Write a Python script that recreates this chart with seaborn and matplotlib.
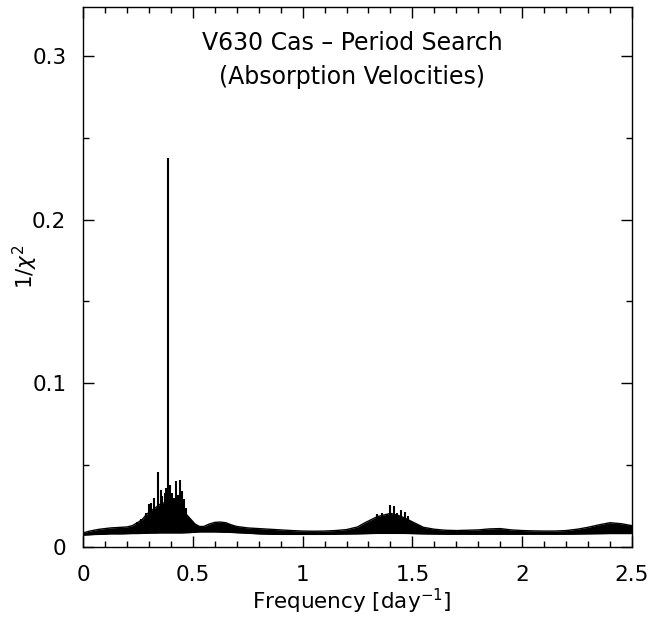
import numpy as np
import pandas as pd
import matplotlib
matplotlib.use("Agg")
import matplotlib.pyplot as plt
from matplotlib.ticker import MultipleLocator
import seaborn as sns

# Periodogram envelope: frequency [1/day], lower and upper bound of 1/chi^2
freq_env = [0.00, 0.025, 0.05, 0.075, 0.10, 0.125, 0.15, 0.175, 0.20, 0.225,
            0.25, 0.27, 0.29, 0.31, 0.33, 0.35, 0.37, 0.39, 0.41, 0.43,
            0.45, 0.47, 0.49, 0.51, 0.53, 0.55, 0.575, 0.60, 0.625, 0.65,
            0.675, 0.70, 0.75, 0.80, 0.85, 0.90, 0.95, 1.00, 1.05, 1.10,
            1.15, 1.20, 1.25, 1.28, 1.31, 1.34, 1.37, 1.40, 1.43, 1.46,
            1.49, 1.52, 1.55, 1.60, 1.65, 1.70, 1.75, 1.80, 1.85, 1.90,
            1.95, 2.00, 2.05, 2.10, 2.15, 2.20, 2.25, 2.30, 2.35, 2.40,
            2.45, 2.50]
power_lo = [0.0072, 0.0074, 0.0076, 0.0077, 0.0078, 0.0080, 0.0080, 0.0080, 0.0081, 0.0082,
            0.0082, 0.0083, 0.0084, 0.0085, 0.0085, 0.0086, 0.0086, 0.0086, 0.0086, 0.0086,
            0.0086, 0.0087, 0.0088, 0.0090, 0.0092, 0.0092, 0.0092, 0.0092, 0.0091, 0.0090,
            0.0089, 0.0087, 0.0084, 0.0080, 0.0078, 0.0077, 0.0077, 0.0077, 0.0077, 0.0077,
            0.0078, 0.0079, 0.0080, 0.0081, 0.0082, 0.0083, 0.0083, 0.0083, 0.0083, 0.0083,
            0.0082, 0.0081, 0.0080, 0.0079, 0.0078, 0.0078, 0.0078, 0.0078, 0.0078, 0.0078,
            0.0078, 0.0078, 0.0078, 0.0078, 0.0078, 0.0078, 0.0079, 0.0080, 0.0081, 0.0082,
            0.0082, 0.0082]
power_hi = [0.0085, 0.0095, 0.0102, 0.0108, 0.0112, 0.0116, 0.0118, 0.0120, 0.0122, 0.0130,
            0.0150, 0.0168, 0.0200, 0.0220, 0.0240, 0.0260, 0.0270, 0.0290, 0.0280, 0.0270,
            0.0240, 0.0200, 0.0170, 0.0140, 0.0125, 0.0125, 0.0140, 0.0150, 0.0152, 0.0148,
            0.0135, 0.0125, 0.0116, 0.0112, 0.0108, 0.0104, 0.0100, 0.0097, 0.0096, 0.0097,
            0.0100, 0.0106, 0.0122, 0.0145, 0.0165, 0.0185, 0.0195, 0.0205, 0.0195, 0.0180,
            0.0160, 0.0140, 0.0120, 0.0108, 0.0102, 0.0100, 0.0102, 0.0104, 0.0110, 0.0112,
            0.0104, 0.0100, 0.0098, 0.0097, 0.0097, 0.0100, 0.0108, 0.0120, 0.0135, 0.0148,
            0.0142, 0.0130]

# Individual peaks rising above the envelope
peak_freq = [0.245, 0.265, 0.285, 0.300, 0.310, 0.325, 0.340, 0.355, 0.362, 0.373,
             0.380, 0.389, 0.396, 0.405, 0.415, 0.423, 0.432, 0.442, 0.450, 0.458,
             0.470, 1.340, 1.360, 1.385, 1.400, 1.416, 1.430, 1.450, 1.466, 1.480]
peak_power = [0.015, 0.017, 0.021, 0.026, 0.027, 0.030, 0.046, 0.035, 0.031, 0.033,
              0.036, 0.238, 0.038, 0.033, 0.030, 0.040, 0.032, 0.041, 0.034, 0.029,
              0.024, 0.020, 0.021, 0.020, 0.0257, 0.025, 0.021, 0.0227, 0.0216, 0.019]

x_ticks = [0, 0.5, 1, 1.5, 2, 2.5]
x_ticklabels = ["0", "0.5", "1", "1.5", "2", "2.5"]
y_ticks = [0, 0.1, 0.2, 0.3]
y_ticklabels = ["0", "0.1", "0.2", "0.3"]

sns.set_style("ticks")
plt.rcParams["font.family"] = ["DejaVu Sans"]
plt.rcParams["text.color"] = "black"
plt.rcParams["axes.labelcolor"] = "black"

env = pd.DataFrame({"freq": freq_env, "lo": power_lo, "hi": power_hi})
peaks = pd.DataFrame({"freq": peak_freq, "power": peak_power})

fig = plt.figure(figsize=(6.63, 6.18), dpi=100)
ax = fig.add_axes([0.1252, 0.1150, 0.8280, 0.8737])

ax.fill_between(env["freq"], env["lo"], env["hi"], color="black", linewidth=0)
sns.lineplot(data=env, x="freq", y="hi", ax=ax, color="black", linewidth=1.0)
sns.lineplot(data=env, x="freq", y="lo", ax=ax, color="black", linewidth=1.0)
base = np.interp(peaks["freq"], env["freq"], env["lo"])
ax.vlines(peaks["freq"], base, peaks["power"], color="black", linewidth=1.5)

ax.set_xlim(0, 2.5)
ax.set_ylim(0, 0.33)
ax.set_xticks(x_ticks)
ax.set_xticklabels(x_ticklabels)
ax.set_yticks(y_ticks)
ax.set_yticklabels(y_ticklabels)
ax.xaxis.set_minor_locator(MultipleLocator(0.1))
ax.yaxis.set_minor_locator(MultipleLocator(0.05))
ax.tick_params(which="both", direction="in", top=True, right=True,
               width=1.0, colors="black", labelsize=15.5)
ax.tick_params(axis="x", which="both", pad=13)
ax.tick_params(axis="y", which="both", pad=12)
ax.tick_params(which="major", length=8)
ax.tick_params(which="minor", length=4)
for sp in ax.spines.values():
    sp.set_linewidth(1.0)
    sp.set_color("black")
    sp.set_visible(True)

ax.set_xlabel(r"Frequency [day$^{-1}$]", fontsize=15.5)
ax.xaxis.set_label_coords(0.49, -0.074)
ax.set_ylabel(r"1/$\chi^2$", fontsize=15.5)
ax.yaxis.set_label_coords(-0.078, 0.52)

ax.text(0.49, 0.933, "V630 Cas \u2013 Period Search", transform=ax.transAxes,
        ha="center", va="center", fontsize=17)
ax.text(0.49, 0.870, "(Absorption Velocities)", transform=ax.transAxes,
        ha="center", va="center", fontsize=17)

fig.savefig("out.png", dpi=100, facecolor="white")
